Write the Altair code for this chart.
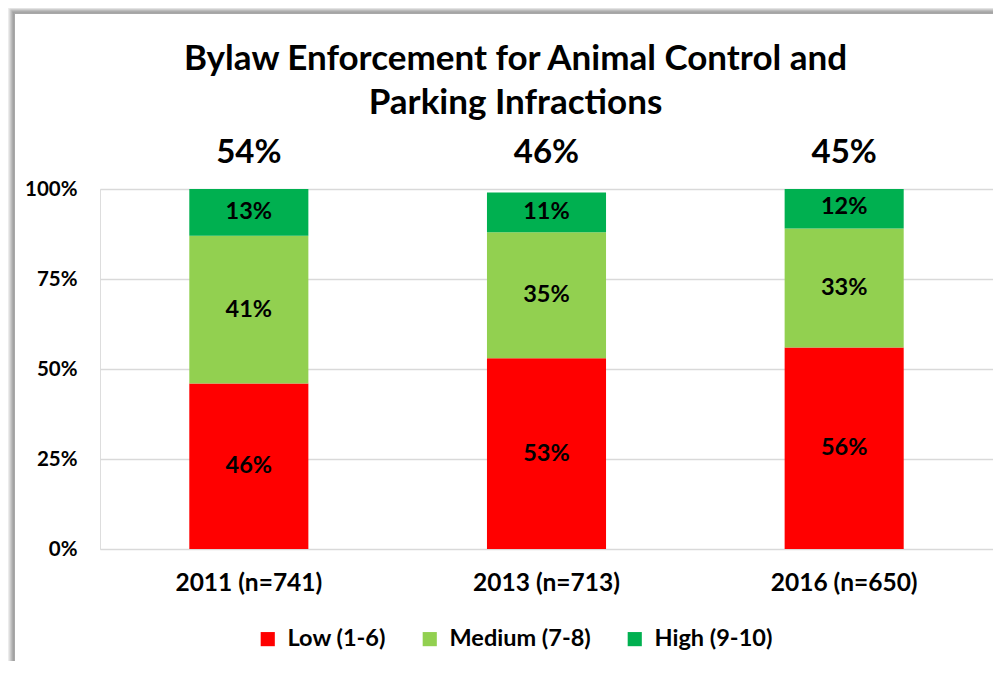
import altair as alt
import pandas as pd

years = ["2011 (n=741)", "2013 (n=713)", "2016 (n=650)"]
levels = ["Low (1-6)", "Medium (7-8)", "High (9-10)"]
low = [46, 53, 56]
medium = [41, 35, 33]
high = [13, 11, 12]
top_totals = [54, 46, 45]
colors = ["#FF0000", "#92D050", "#00B050"]

rows = []
for i, y in enumerate(years):
    for j, (lv, vals) in enumerate(zip(levels, [low, medium, high])):
        rows.append({"year": y, "level": lv, "ord": j, "value": vals[i]})
df = pd.DataFrame(rows)
top_df = pd.DataFrame({"year": years, "total": top_totals})

FONT = "Lato"

xenc = alt.X("year:N", sort=years,
             scale=alt.Scale(paddingInner=0.6, paddingOuter=0.3),
             axis=alt.Axis(title=None, labelAngle=0, ticks=False, domain=False,
                           labelFont=FONT, labelFontSize=24.5, labelFontWeight="bold",
                           labelColor="#000000", labelPadding=22.5))
yscale = alt.Scale(domain=[0, 100], nice=False)

base = alt.Chart(df).transform_stack(
    stack="value", groupby=["year"], as_=["v0", "v1"],
    sort=[alt.SortField("ord", order="ascending")]
).transform_calculate(mid="(datum.v0 + datum.v1) / 2")

bars = base.mark_bar(clip=True).encode(
    x=xenc,
    y=alt.Y("v0:Q", scale=yscale,
            axis=alt.Axis(title=None, values=[0, 25, 50, 75, 100],
                          labelExpr="datum.value + '%'", ticks=False, domain=False,
                          grid=True, gridColor="#D9D9D9", gridWidth=1.5,
                          labelFont=FONT, labelFontSize=20.5, labelFontWeight="bold",
                          labelColor="#000000", labelPadding=23)),
    y2="v1:Q",
    color=alt.Color("level:N", sort=levels,
                    scale=alt.Scale(domain=levels, range=colors),
                    legend=alt.Legend(title=None, orient="none", direction="horizontal",
                                      legendX=156, legendY=438,
                                      symbolType="square", symbolSize=200,
                                      symbolStrokeWidth=0, labelFont=FONT,
                                      labelFontSize=23.5, labelFontWeight="bold",
                                      labelColor="#000000", columnPadding=32,
                                      labelOffset=8)),
)

seg_text = base.mark_text(font=FONT, fontSize=23.5, fontWeight="bold",
                          color="#000000", baseline="middle").encode(
    x=alt.X("year:N", sort=years),
    y=alt.Y("mid:Q", scale=yscale),
    text=alt.Text("label:N"),
).transform_calculate(label="datum.value + '%'")

top_text = alt.Chart(top_df).transform_calculate(
    label="datum.total + '%'", ypos="110"
).mark_text(font=FONT, fontSize=33, fontWeight="bold", color="#000000",
            baseline="middle").encode(
    x=alt.X("year:N", sort=years),
    y=alt.Y("ypos:Q", scale=yscale),
    text="label:N",
)

# decorative frame shadow (top-left edges), lighter outward
shadow = []
shades = ["#ececec", "#dddddd", "#cccccc", "#bcbcbc", "#adadad", "#a2a2a2", "#a8a8a8"]
for k, c in enumerate(shades):
    xx = -91.5 + k
    yy = -180.5 + k * 0.8
    shadow.append(alt.Chart(top_df).mark_rule(color=c, strokeWidth=1).encode(
        x=alt.value(xx), y=alt.value(yy), y2=alt.value(478)))
    shadow.append(alt.Chart(top_df).mark_rule(color=c, strokeWidth=1).encode(
        x=alt.value(xx), x2=alt.value(893), y=alt.value(yy)))

chart = alt.layer(*shadow, bars, seg_text, top_text).properties(
    width=893, height=360,
    autosize=alt.AutoSizeParams(type="none"),
    padding={"left": 92, "top": 181, "right": 0, "bottom": 112},
    title=alt.Title(["Bylaw Enforcement for Animal Control and", "Parking Infractions"],
                    font=FONT, fontSize=35, fontWeight="bold", color="#000000",
                    anchor="middle", dx=-31, dy=113, baseline="top",
                    lineHeight=44, offset=0),
).configure_view(stroke=None).configure(background="white")

chart.save("out.html", embed_options={"renderer": "svg", "actions": False})
